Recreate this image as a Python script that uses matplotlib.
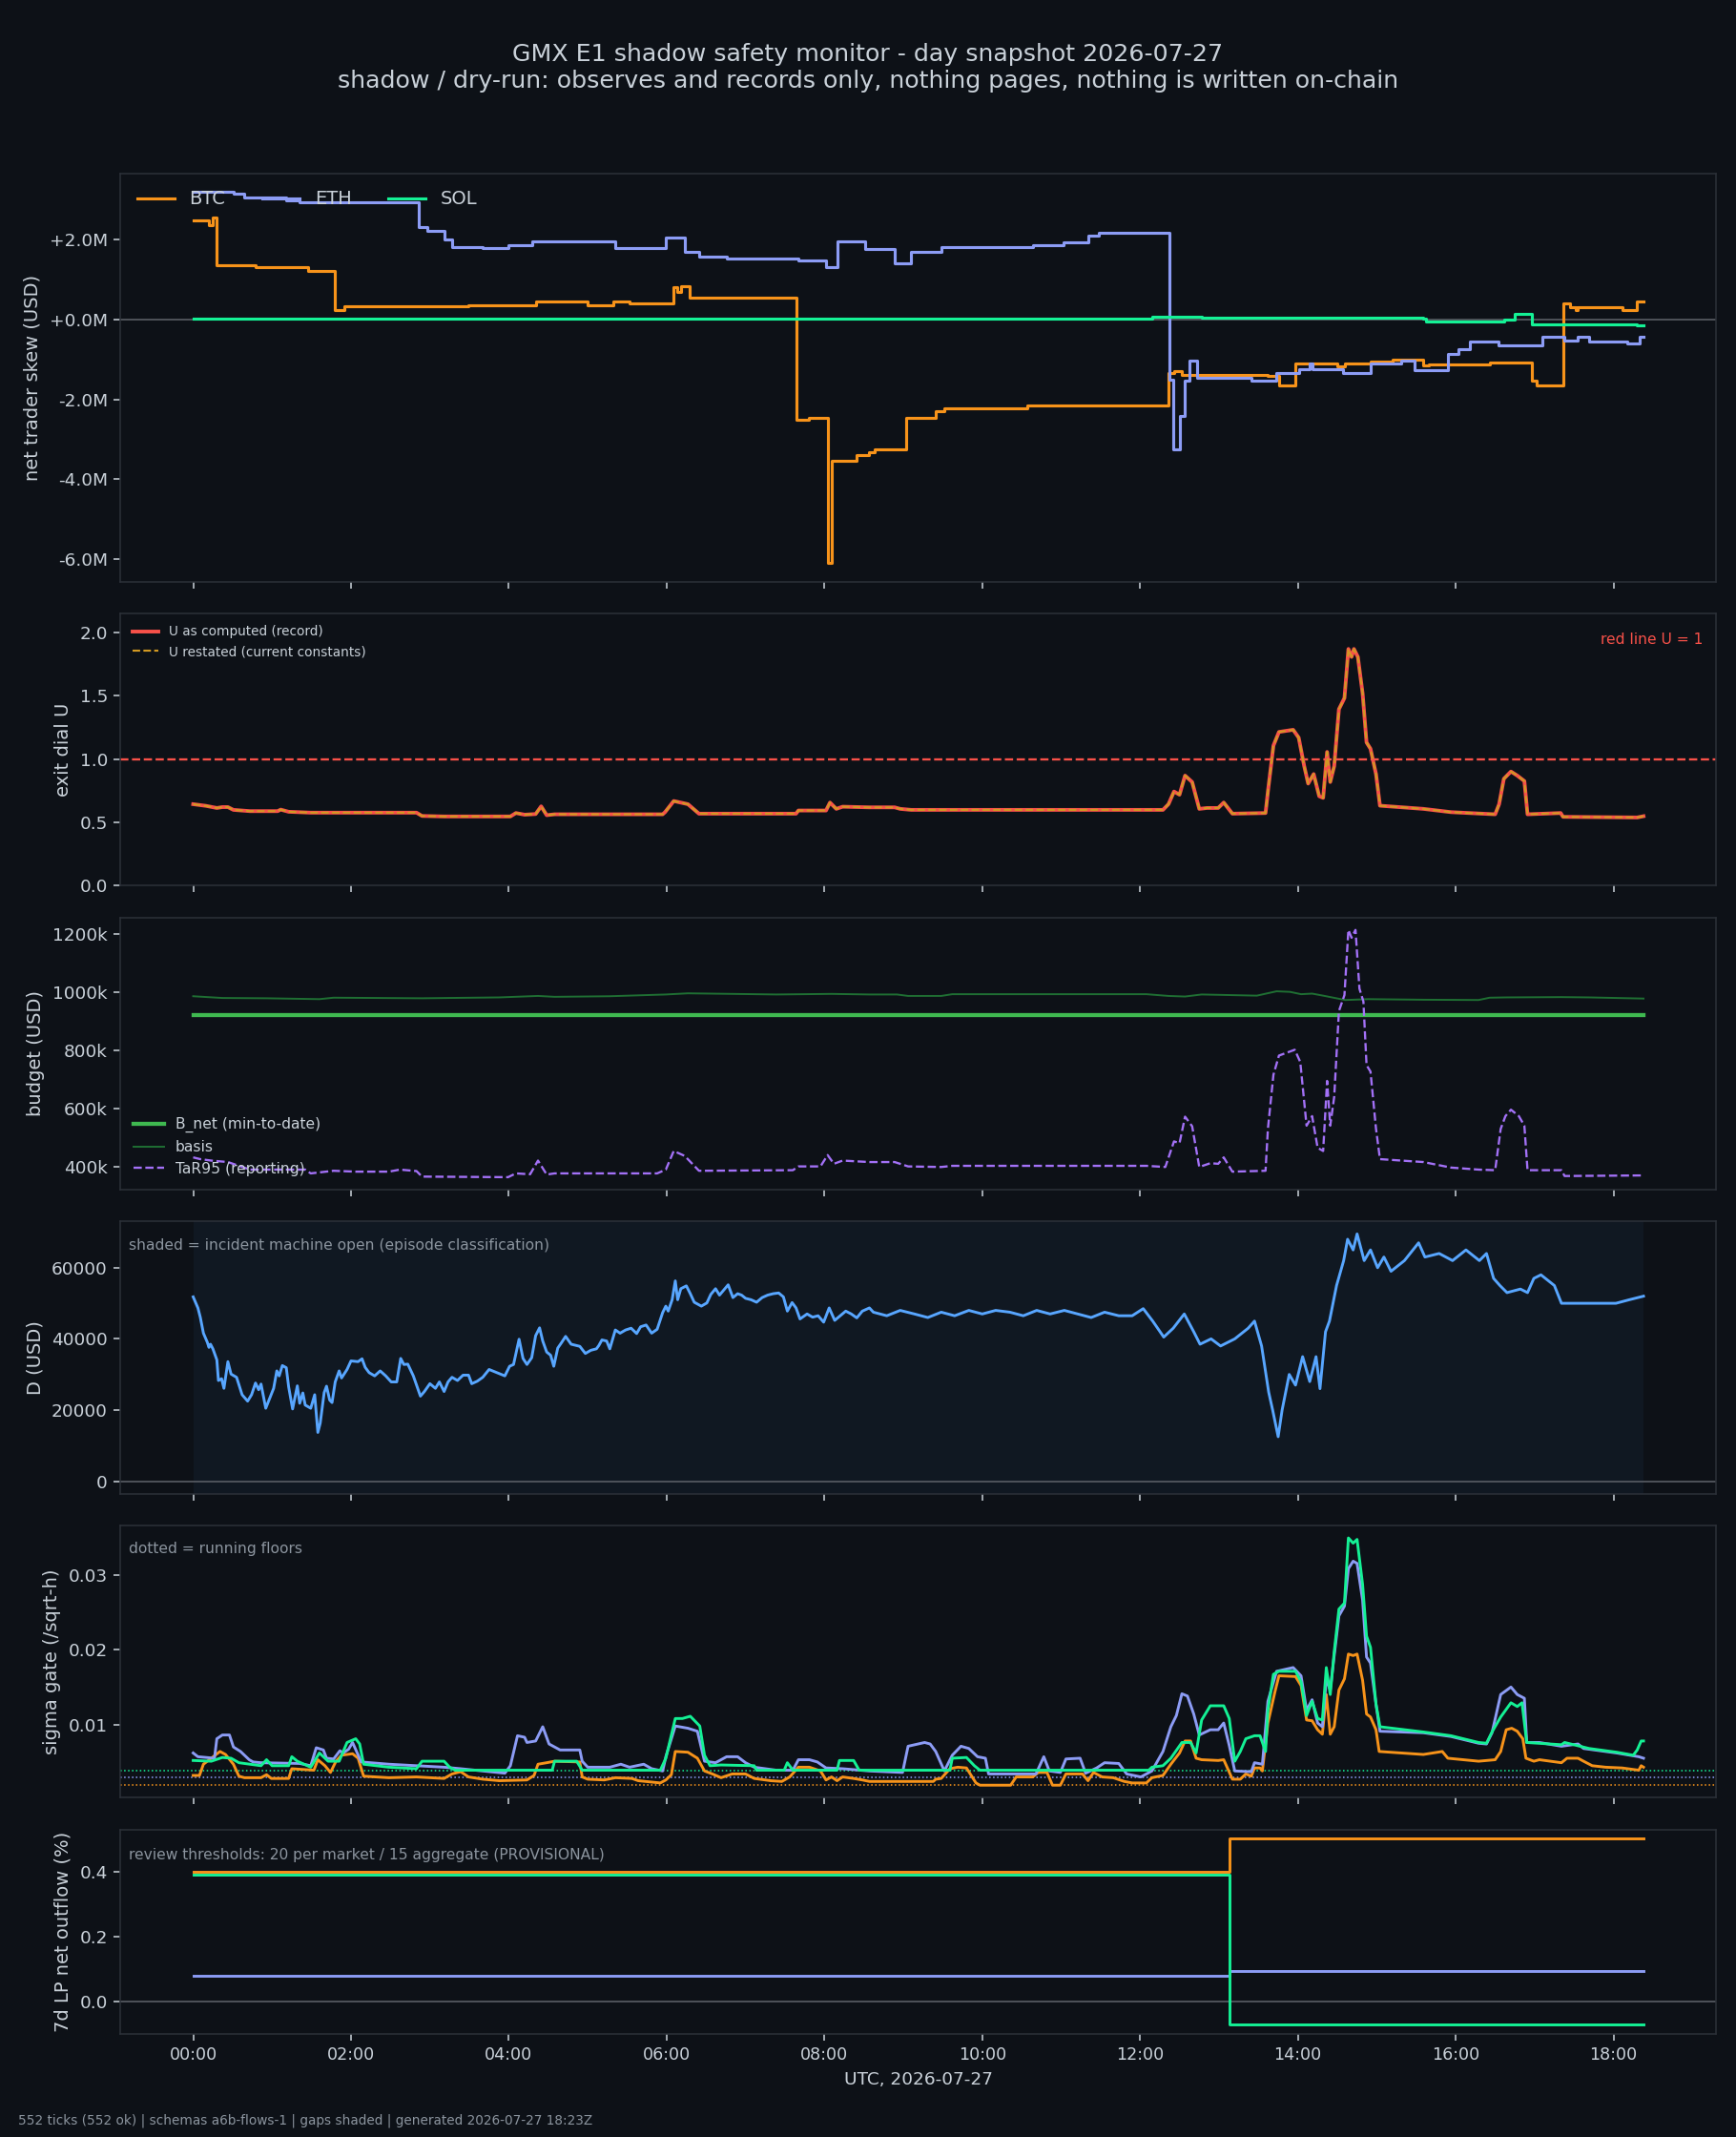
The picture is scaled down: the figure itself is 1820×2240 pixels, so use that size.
import matplotlib
matplotlib.use("Agg")
import matplotlib.pyplot as plt
import matplotlib.dates as mdates
import numpy as np
import pandas as pd

DAY = pd.Timestamp("2026-07-27")

# ---- colours
BG = "#0d1117"
FG = "#c9d1d9"
MUTED = "#8b949e"
SPINE = "#2b3038"
C_BTC = "#f7931a"
C_ETH = "#8c9cf5"
C_SOL = "#14f195"

# ---- panel 1: net trader skew (USD millions), step changes (hour, value)
btc_skew_h = [0.00, 0.20, 0.25, 0.30, 0.79, 1.04, 1.46, 1.80, 1.92, 3.49, 4.34, 5.00, 5.32, 5.53,
              6.09, 6.14, 6.18, 6.29, 7.65, 7.80, 8.02, 8.04, 8.09, 8.41, 8.57, 8.64, 9.03, 9.41,
              9.52, 10.57, 10.68, 12.36, 12.43, 12.53, 13.62, 13.76, 13.97, 14.50, 14.60, 14.92,
              15.20, 15.59, 15.66, 16.43, 16.96, 17.03, 17.36, 17.45, 17.52, 17.55, 18.11, 18.29, 18.38]
btc_skew = [2.50, 2.37, 2.55, 1.37, 1.31, 1.33, 1.23, 0.25, 0.33, 0.36, 0.45, 0.35, 0.45, 0.40,
            0.81, 0.69, 0.85, 0.56, -2.51, -2.47, -2.45, -6.10, -3.53, -3.40, -3.33, -3.25, -2.47, -2.30,
            -2.22, -2.16, -2.14, -1.34, -1.30, -1.38, -1.42, -1.66, -1.10, -1.18, -1.10, -1.04,
            -1.00, -1.14, -1.12, -1.08, -1.54, -1.66, 0.40, 0.31, 0.25, 0.32, 0.25, 0.45, 0.45]
eth_skew_h = [0.00, 0.51, 0.65, 1.18, 1.35, 2.83, 2.86, 2.97, 3.18, 3.28, 3.67, 3.99, 4.30, 5.35,
              5.99, 6.23, 6.41, 6.76, 7.67, 8.02, 8.16, 8.51, 8.89, 9.10, 9.48, 10.32, 10.64, 11.03,
              11.34, 11.48, 12.32, 12.37, 12.42, 12.50, 12.57, 12.63, 12.72, 13.41, 13.73, 14.01,
              14.15, 14.18, 14.57, 14.92, 15.31, 15.48, 15.90, 16.04, 16.18, 16.54, 17.10, 17.38,
              17.55, 17.69, 18.18, 18.33, 18.38]
eth_skew = [3.20, 3.16, 3.07, 2.99, 2.95, 2.95, 2.33, 2.22, 2.02, 1.83, 1.79, 1.87, 1.97, 1.79,
            2.05, 1.69, 1.59, 1.53, 1.49, 1.33, 1.97, 1.77, 1.41, 1.71, 1.81, 1.83, 1.87, 1.93,
            2.11, 2.19, 2.19, -1.50, -3.24, -2.41, -1.54, -1.02, -1.46, -1.52, -1.34, -1.25,
            -1.10, -1.24, -1.34, -1.10, -1.02, -1.26, -0.86, -0.74, -0.54, -0.64, -0.42, -0.53,
            -0.42, -0.54, -0.60, -0.42, -0.42]
sol_skew_h = [0.00, 12.15, 12.78, 15.59, 15.62, 16.61, 16.75, 16.96, 18.30, 18.38]
sol_skew = [0.02, 0.07, 0.05, 0.03, -0.04, 0.00, 0.15, -0.12, -0.14, -0.14]

# ---- panel 2: exit dial U
u_h = [0.00, 0.16, 0.30, 0.37, 0.44, 0.51, 0.72, 1.07, 1.11, 1.21, 1.49, 2.83, 2.90, 3.18, 4.02,
       4.09, 4.20, 4.34, 4.41, 4.48, 4.58, 5.95, 5.98, 6.09, 6.27, 6.41, 7.64, 7.67, 8.02, 8.07,
       8.15, 8.23, 8.57, 8.89, 8.96, 9.10, 12.29, 12.36, 12.43, 12.50, 12.57, 12.66, 12.75, 12.85,
       12.99, 13.06, 13.17, 13.59, 13.62, 13.69, 13.76, 13.94, 14.01, 14.08, 14.13, 14.20, 14.27,
       14.32, 14.37, 14.41, 14.46, 14.52, 14.59, 14.64, 14.68, 14.71, 14.76, 14.82, 14.87, 14.92,
       14.99, 15.04, 15.59, 15.94, 16.50, 16.55, 16.61, 16.70, 16.78, 16.87, 16.91, 17.33, 17.36,
       18.30, 18.38]
u_rec = [0.643, 0.630, 0.613, 0.620, 0.620, 0.598, 0.588, 0.588, 0.600, 0.583, 0.576, 0.576, 0.550,
         0.546, 0.546, 0.573, 0.560, 0.565, 0.626, 0.556, 0.563, 0.563, 0.580, 0.668, 0.643, 0.568,
         0.568, 0.593, 0.593, 0.656, 0.606, 0.623, 0.618, 0.618, 0.606, 0.598, 0.598, 0.643, 0.743,
         0.718, 0.869, 0.818, 0.606, 0.613, 0.613, 0.656, 0.568, 0.573, 0.743, 1.106, 1.214, 1.231,
         1.169, 0.944, 0.806, 0.881, 0.706, 0.693, 1.056, 0.818, 0.944, 1.394, 1.482, 1.870, 1.807,
         1.870, 1.807, 1.519, 1.131, 1.081, 0.881, 0.631, 0.606, 0.580, 0.563, 0.643, 0.844, 0.901,
         0.869, 0.826, 0.563, 0.573, 0.543, 0.538, 0.548]

# ---- panel 3: budget (USD thousands)
basis_h = [0.00, 0.37, 0.93, 1.60, 1.78, 2.90, 3.88, 4.37, 4.58, 5.28, 5.99, 6.27, 7.39, 8.09,
           8.57, 8.92, 9.06, 9.48, 9.62, 12.08, 12.36, 12.57, 12.78, 13.48, 13.73, 13.90, 14.04,
           14.18, 14.32, 14.60, 14.89, 15.59, 16.29, 16.43, 16.64, 17.34, 17.69, 18.38]
basis_k = [985, 979, 978, 975, 980, 978, 981, 986, 983, 985, 991, 995, 991, 993,
           991, 991, 986, 986, 992, 992, 986, 984, 991, 987, 1002, 1000, 992,
           994, 987, 972, 975, 973, 972, 980, 981, 982, 981, 977]
b_net_k = 920
tar_h = [0.00, 0.09, 0.23, 0.44, 0.72, 1.42, 1.49, 1.78, 2.06, 2.48, 2.62, 2.83, 2.90, 3.99, 4.09,
         4.27, 4.37, 4.48, 4.58, 5.88, 5.99, 6.09, 6.23, 6.41, 7.60, 7.67, 7.95, 8.04, 8.12, 8.23,
         8.57, 8.89, 9.06, 9.48, 9.62, 12.08, 12.32, 12.43, 12.50, 12.57, 12.66, 12.75, 12.89,
         12.99, 13.06, 13.17, 13.59, 13.62, 13.69, 13.76, 13.96, 14.03, 14.11, 14.18, 14.25,
         14.32, 14.37, 14.41, 14.46, 14.52, 14.59, 14.64, 14.68, 14.73, 14.78, 14.83, 14.87,
         14.92, 14.99, 15.04, 15.59, 15.94, 16.29, 16.50, 16.57, 16.63, 16.70, 16.80, 16.87,
         16.91, 17.34, 17.38, 18.38]
tar_k = [431, 425, 420, 415, 389, 389, 376, 385, 382, 382, 389, 384, 365, 363, 376,
         373, 420, 372, 376, 376, 389, 453, 436, 385, 387, 400, 400, 439, 409, 420,
         415, 415, 400, 398, 402, 402, 398, 486, 480, 571, 538, 398, 411,
         409, 431, 382, 385, 529, 715, 781, 801, 759, 540, 573, 464,
         453, 694, 540, 639, 934, 989, 1213, 1186, 1213, 1011, 967, 748,
         726, 529, 425, 415, 396, 389, 387, 529, 573, 595, 573, 540,
         387, 387, 367, 369]

# ---- panel 4: D (USD thousands)
d_h = [0.00, 0.06, 0.09, 0.13, 0.18, 0.20, 0.22, 0.25, 0.30, 0.32, 0.36, 0.39, 0.44, 0.48, 0.55,
       0.62, 0.69, 0.74, 0.79, 0.83, 0.86, 0.92, 0.97, 1.02, 1.06, 1.09, 1.13, 1.18, 1.21, 1.26,
       1.32, 1.35, 1.39, 1.42, 1.49, 1.54, 1.58, 1.61, 1.66, 1.69, 1.73, 1.76, 1.80, 1.85, 1.88,
       1.95, 2.00, 2.09, 2.14, 2.18, 2.23, 2.30, 2.37, 2.44, 2.51, 2.58, 2.63, 2.67, 2.72, 2.79,
       2.88, 2.93, 3.00, 3.07, 3.12, 3.18, 3.23, 3.28, 3.35, 3.42, 3.49, 3.53, 3.60, 3.67, 3.75,
       3.85, 3.95, 4.01, 4.06, 4.13, 4.18, 4.23, 4.29, 4.34, 4.39, 4.43, 4.48, 4.53, 4.57, 4.62,
       4.67, 4.72, 4.79, 4.90, 4.97, 5.04, 5.11, 5.14, 5.18, 5.24, 5.28, 5.35, 5.41, 5.48, 5.55,
       5.62, 5.67, 5.74, 5.81, 5.88, 5.95, 5.99, 6.02, 6.07, 6.11, 6.14, 6.18, 6.25, 6.30, 6.35,
       6.44, 6.51, 6.56, 6.62, 6.67, 6.72, 6.78, 6.84, 6.90, 6.95, 7.00, 7.07, 7.14, 7.21, 7.28,
       7.35, 7.42, 7.48, 7.53, 7.59, 7.64, 7.69, 7.78, 7.85, 7.92, 7.99, 8.06, 8.13, 8.20, 8.27,
       8.34, 8.41, 8.48, 8.57, 8.62, 8.79, 8.96, 9.14, 9.31, 9.48, 9.65, 9.83, 10.00, 10.17,
       10.35, 10.52, 10.69, 10.86, 11.04, 11.21, 11.38, 11.55, 11.73, 11.90, 12.04, 12.16, 12.30,
       12.42, 12.56, 12.68, 12.76, 12.90, 13.02, 13.20, 13.37, 13.45, 13.54, 13.63, 13.68, 13.75,
       13.80, 13.89, 13.97, 14.06, 14.15, 14.23, 14.28, 14.35, 14.40, 14.49, 14.58, 14.63, 14.70,
       14.75, 14.84, 14.92, 15.01, 15.09, 15.18, 15.35, 15.53, 15.61, 15.79, 15.96, 16.13, 16.30,
       16.39, 16.48, 16.56, 16.65, 16.82, 16.91, 16.99, 17.08, 17.25, 17.34, 17.51, 17.77, 18.03,
       18.20, 18.38]
d_k = [51.8, 48.7, 46.1, 41.6, 39.0, 37.6, 38.5, 37.2, 34.1, 28.3, 28.8, 26.1, 33.6, 30.1, 29.2,
       24.3, 22.5, 24.3, 27.6, 25.7, 27.3, 20.5, 23.3, 26.1, 31.0, 29.6, 32.5, 31.9, 26.5, 20.3,
       26.8, 21.9, 24.8, 21.4, 20.5, 24.3, 13.7, 16.3, 24.9, 26.7, 22.8, 22.1, 27.9, 31.0, 29.0,
       31.4, 33.8, 33.6, 34.4, 32.0, 30.5, 29.6, 31.0, 29.6, 27.9, 27.9, 34.5, 32.8, 32.9, 29.6,
       23.9, 25.2, 27.4, 26.1, 27.9, 25.2, 27.9, 29.2, 28.3, 29.8, 29.8, 27.4, 28.1, 29.2, 31.4,
       30.5, 29.6, 32.3, 32.8, 39.9, 34.5, 32.8, 34.7, 40.9, 43.1, 39.4, 36.3, 35.4, 32.3, 37.4,
       39.0, 40.7, 38.5, 37.9, 35.9, 36.8, 37.2, 38.1, 39.7, 39.4, 37.2, 42.5, 41.6, 42.5, 43.0,
       41.5, 43.4, 43.9, 41.6, 42.7, 47.4, 49.2, 47.8, 51.0, 56.3, 51.0, 54.1, 54.9, 52.7, 50.3,
       49.2, 50.1, 52.5, 54.1, 52.3, 53.6, 55.2, 51.6, 52.7, 52.3, 51.4, 51.0, 50.3, 51.6, 52.3,
       52.7, 52.9, 51.8, 47.8, 50.2, 48.7, 45.6, 47.0, 46.1, 46.5, 44.7, 48.7, 45.2, 46.5, 47.8,
       47.0, 45.9, 47.8, 48.7, 47.5, 46.5, 48.0, 47.0, 46.0, 47.5, 46.5, 48.0, 47.0, 48.0,
       47.5, 46.5, 48.0, 47.0, 48.0, 47.0, 46.0, 47.5, 46.5, 46.5, 48.5, 45.0, 40.5,
       43.0, 47.0, 42.0, 38.5, 40.0, 38.0, 40.0, 43.0, 45.0, 38.0, 25.0, 20.0, 12.5,
       20.0, 30.0, 27.0, 35.0, 28.0, 35.0, 26.0, 42.0, 45.0, 55.0, 62.0, 68.0, 65.0,
       69.5, 62.0, 65.0, 60.0, 63.0, 59.0, 62.0, 67.0, 63.0, 64.0, 62.0, 65.0, 62.0,
       64.0, 57.0, 55.0, 53.0, 54.0, 53.0, 57.0, 58.0, 55.0, 50.0, 50.0, 50.0, 50.0,
       51.0, 52.0]

# ---- panel 5: sigma gate (/sqrt-h)
btc_sig_h = [0.00, 0.08, 0.13, 0.23, 0.34, 0.41, 0.51, 0.58, 0.65, 0.86, 0.93, 0.99, 1.21, 1.25,
             1.53, 1.58, 1.67, 1.74, 1.81, 1.88, 2.02, 2.09, 2.16, 2.48, 2.83, 3.18, 3.28, 3.39,
             3.49, 3.67, 3.88, 4.23, 4.32, 4.37, 4.48, 4.58, 4.90, 4.93, 5.00, 5.21, 5.35, 5.56,
             5.64, 5.92, 5.99, 6.06, 6.11, 6.27, 6.39, 6.48, 6.58, 6.69, 6.83, 7.00, 7.11, 7.32,
             7.46, 7.56, 7.67, 7.81, 7.95, 8.02, 8.09, 8.16, 8.23, 8.37, 8.48, 8.57, 9.38, 9.41,
             9.48, 9.59, 9.69, 9.80, 9.92, 9.97, 10.36, 10.43, 10.64, 10.71, 10.82, 10.89, 10.99,
             11.06, 11.27, 11.34, 11.41, 11.52, 11.66, 11.80, 11.90, 12.08, 12.15, 12.29, 12.39,
             12.50, 12.57, 12.64, 12.71, 12.78, 12.99, 13.06, 13.17, 13.27, 13.34, 13.41, 13.45,
             13.52, 13.55, 13.62, 13.71, 13.76, 13.97, 14.04, 14.11, 14.18, 14.25, 14.31, 14.36,
             14.41, 14.46, 14.52, 14.59, 14.64, 14.70, 14.75, 14.82, 14.87, 14.92, 14.99, 15.03,
             15.59, 15.83, 15.90, 16.29, 16.50, 16.57, 16.64, 16.71, 16.78, 16.85, 16.89, 16.99,
             17.06, 17.34, 17.41, 17.55, 17.62, 17.73, 17.90, 18.11, 18.32, 18.35, 18.38]
btc_sig = [0.0032, 0.0032, 0.0047, 0.0055, 0.0064, 0.0060, 0.0047, 0.0031, 0.0029, 0.0029, 0.0033,
           0.0028, 0.0028, 0.0041, 0.0039, 0.0053, 0.0045, 0.0036, 0.0051, 0.0059, 0.0061, 0.0055,
           0.0031, 0.0029, 0.0030, 0.0028, 0.0034, 0.0037, 0.0030, 0.0027, 0.0025, 0.0026, 0.0032,
           0.0047, 0.0049, 0.0051, 0.0050, 0.0030, 0.0027, 0.0026, 0.0029, 0.0028, 0.0025, 0.0022,
           0.0026, 0.0033, 0.0064, 0.0063, 0.0055, 0.0038, 0.0034, 0.0029, 0.0034, 0.0034, 0.0028,
           0.0025, 0.0024, 0.0030, 0.0043, 0.0043, 0.0038, 0.0026, 0.0030, 0.0025, 0.0030, 0.0028,
           0.0026, 0.0024, 0.0024, 0.0027, 0.0028, 0.0041, 0.0043, 0.0042, 0.0022, 0.0019, 0.0019,
           0.0030, 0.0030, 0.0036, 0.0036, 0.0019, 0.0019, 0.0034, 0.0034, 0.0025, 0.0036, 0.0030,
           0.0029, 0.0024, 0.0022, 0.0022, 0.0029, 0.0032, 0.0047, 0.0062, 0.0078, 0.0078, 0.0055,
           0.0053, 0.0052, 0.0053, 0.0027, 0.0027, 0.0034, 0.0031, 0.0042, 0.0042, 0.0038, 0.0102,
           0.0144, 0.0165, 0.0164, 0.0152, 0.0106, 0.0105, 0.0093, 0.0087, 0.0140, 0.0087, 0.0097,
           0.0146, 0.0161, 0.0194, 0.0192, 0.0194, 0.0159, 0.0114, 0.0110, 0.0093, 0.0064, 0.0060,
           0.0064, 0.0055, 0.0051, 0.0053, 0.0064, 0.0093, 0.0095, 0.0091, 0.0081, 0.0055, 0.0051,
           0.0053, 0.0049, 0.0055, 0.0055, 0.0051, 0.0045, 0.0043, 0.0042, 0.0039, 0.0045, 0.0043]
eth_sig_h = [0.00, 0.06, 0.27, 0.30, 0.37, 0.46, 0.51, 0.60, 0.71, 0.76, 0.86, 1.35, 1.49, 1.56,
             1.65, 1.69, 1.78, 1.86, 1.90, 1.97, 2.02, 2.13, 2.48, 2.83, 3.18, 3.39, 3.67, 3.95,
             4.02, 4.11, 4.20, 4.23, 4.34, 4.43, 4.51, 4.58, 4.65, 4.90, 4.93, 5.00, 5.28, 5.42,
             5.53, 5.71, 5.81, 5.95, 5.99, 6.11, 6.27, 6.39, 6.48, 6.62, 6.76, 6.90, 7.00, 7.11,
             7.39, 7.60, 7.67, 7.81, 7.91, 8.02, 8.23, 8.57, 8.99, 9.06, 9.27, 9.34, 9.41, 9.52,
             9.62, 9.73, 9.83, 9.94, 10.04, 10.08, 10.68, 10.78, 10.85, 10.99, 11.06, 11.24, 11.31,
             11.45, 11.55, 11.73, 11.83, 12.01, 12.15, 12.29, 12.39, 12.46, 12.53, 12.60, 12.68,
             12.75, 12.89, 12.99, 13.06, 13.13, 13.20, 13.41, 13.45, 13.55, 13.62, 13.73, 13.94,
             14.04, 14.11, 14.18, 14.25, 14.31, 14.36, 14.41, 14.46, 14.52, 14.59, 14.64, 14.70,
             14.75, 14.82, 14.87, 14.92, 14.99, 15.04, 15.59, 15.94, 16.29, 16.39, 16.46, 16.57,
             16.70, 16.78, 16.87, 16.90, 17.06, 17.34, 17.55, 17.62, 18.04, 18.32, 18.38]
eth_sig = [0.0062, 0.0057, 0.0055, 0.0081, 0.0086, 0.0086, 0.0070, 0.0064, 0.0053, 0.0050, 0.0049,
           0.0048, 0.0045, 0.0069, 0.0066, 0.0055, 0.0054, 0.0065, 0.0062, 0.0067, 0.0076, 0.0050,
           0.0047, 0.0045, 0.0043, 0.0041, 0.0038, 0.0035, 0.0045, 0.0085, 0.0083, 0.0076, 0.0078,
           0.0097, 0.0074, 0.0070, 0.0066, 0.0066, 0.0051, 0.0043, 0.0043, 0.0047, 0.0043, 0.0047,
           0.0041, 0.0038, 0.0057, 0.0098, 0.0095, 0.0091, 0.0051, 0.0049, 0.0057, 0.0057, 0.0049,
           0.0043, 0.0039, 0.0039, 0.0053, 0.0053, 0.0050, 0.0042, 0.0041, 0.0038, 0.0036, 0.0071,
           0.0076, 0.0074, 0.0064, 0.0038, 0.0059, 0.0071, 0.0068, 0.0057, 0.0055, 0.0034, 0.0034,
           0.0057, 0.0038, 0.0036, 0.0054, 0.0055, 0.0035, 0.0042, 0.0049, 0.0048, 0.0034, 0.0030,
           0.0038, 0.0064, 0.0097, 0.0112, 0.0141, 0.0138, 0.0114, 0.0086, 0.0093, 0.0093, 0.0102,
           0.0072, 0.0038, 0.0037, 0.0049, 0.0047, 0.0131, 0.0171, 0.0176, 0.0165, 0.0119, 0.0133,
           0.0102, 0.0097, 0.0161, 0.0146, 0.0192, 0.0245, 0.0258, 0.0308, 0.0318, 0.0315, 0.0266,
           0.0190, 0.0182, 0.0127, 0.0091, 0.0089, 0.0084, 0.0075, 0.0074, 0.0089, 0.0140, 0.0150,
           0.0140, 0.0135, 0.0076, 0.0076, 0.0071, 0.0074, 0.0068, 0.0062, 0.0057, 0.0055]
sol_sig_h = [0.00, 0.23, 0.37, 0.48, 0.58, 0.86, 0.93, 1.00, 1.21, 1.25, 1.32, 1.49, 1.60, 1.71,
             1.85, 1.95, 2.06, 2.11, 2.16, 2.48, 2.83, 2.90, 3.18, 3.25, 3.32, 4.55, 4.58, 4.86,
             4.93, 5.92, 5.99, 6.11, 6.20, 6.30, 6.42, 6.48, 6.55, 6.69, 7.11, 7.14, 7.49, 7.53,
             7.60, 8.16, 8.19, 8.37, 8.44, 9.59, 9.62, 9.80, 9.90, 9.97, 12.11, 12.15, 12.29, 12.39,
             12.53, 12.64, 12.71, 12.78, 12.89, 13.06, 13.13, 13.20, 13.27, 13.34, 13.45, 13.52,
             13.59, 13.62, 13.69, 13.76, 13.97, 14.04, 14.11, 14.18, 14.25, 14.31, 14.36, 14.41,
             14.46, 14.52, 14.59, 14.64, 14.70, 14.75, 14.82, 14.87, 14.92, 14.99, 15.04, 15.59,
             15.94, 16.29, 16.39, 16.46, 16.57, 16.70, 16.78, 16.84, 16.90, 17.34, 17.38, 17.69,
             18.04, 18.25, 18.30, 18.35, 18.38]
sol_sig = [0.0052, 0.0051, 0.0056, 0.0055, 0.0049, 0.0045, 0.0053, 0.0045, 0.0045, 0.0057, 0.0051,
           0.0043, 0.0062, 0.0051, 0.0051, 0.0076, 0.0081, 0.0074, 0.0047, 0.0043, 0.0041, 0.0051,
           0.0051, 0.0043, 0.0039, 0.0039, 0.0051, 0.0051, 0.0039, 0.0039, 0.0055, 0.0108, 0.0108,
           0.0111, 0.0098, 0.0059, 0.0045, 0.0046, 0.0045, 0.0039, 0.0039, 0.0049, 0.0039, 0.0039,
           0.0052, 0.0052, 0.0039, 0.0039, 0.0055, 0.0056, 0.0045, 0.0039, 0.0039, 0.0043, 0.0045,
           0.0055, 0.0076, 0.0076, 0.0062, 0.0106, 0.0125, 0.0125, 0.0108, 0.0051, 0.0064, 0.0081,
           0.0085, 0.0085, 0.0064, 0.0119, 0.0167, 0.0171, 0.0171, 0.0157, 0.0112, 0.0131, 0.0108,
           0.0106, 0.0176, 0.0140, 0.0197, 0.0254, 0.0262, 0.0349, 0.0342, 0.0347, 0.0287, 0.0218,
           0.0203, 0.0127, 0.0097, 0.0090, 0.0085, 0.0076, 0.0075, 0.0090, 0.0110, 0.0129, 0.0124,
           0.0129, 0.0076, 0.0073, 0.0076, 0.0068, 0.0063, 0.0059, 0.0066, 0.0078, 0.0078]
floors = {"BTC": 0.0019, "ETH": 0.0029, "SOL": 0.0039}

# ---- panel 6: 7d LP net outflow (%), step at 13:08
lp_h = [0.00, 13.13, 18.38]
lp_btc = [0.40, 0.50, 0.50]
lp_eth = [0.08, 0.095, 0.095]
lp_sol = [0.39, -0.07, -0.07]


def to_time(hours):
    return DAY + pd.to_timedelta(np.asarray(hours, dtype=float), unit="h")


plt.rcParams.update({
    "figure.facecolor": BG,
    "axes.facecolor": BG,
    "axes.edgecolor": SPINE,
    "axes.labelcolor": FG,
    "text.color": FG,
    "xtick.color": FG,
    "ytick.color": FG,
    "font.size": 9,
    "axes.labelsize": 10,
})

fig, axs = plt.subplots(6, 1, figsize=(13, 16), dpi=140, sharex=True,
                        gridspec_kw=dict(height_ratios=[6, 4, 4, 4, 4, 3], hspace=0.113))
fig.subplots_adjust(left=0.0695, right=0.9885, top=0.9188, bottom=0.0484)
fig.suptitle("GMX E1 shadow safety monitor - day snapshot 2026-07-27\n"
             "shadow / dry-run: observes and records only, nothing pages, nothing is written on-chain",
             fontsize=13, color=FG, y=0.98)

# panel 1 - skew
ax = axs[0]
ax.axhline(0, color="#555a61", lw=0.9)
ax.plot(to_time(btc_skew_h), btc_skew, color=C_BTC, lw=1.6, drawstyle="steps-post", label="BTC")
ax.plot(to_time(eth_skew_h), eth_skew, color=C_ETH, lw=1.6, drawstyle="steps-post", label="ETH")
ax.plot(to_time(sol_skew_h), sol_skew, color=C_SOL, lw=1.6, drawstyle="steps-post", label="SOL")
ax.yaxis.set_major_formatter(plt.FuncFormatter(lambda v, p: f"{v:+.1f}M"))
ax.set_yticks([-6, -4, -2, 0, 2])
ax.set_ylabel("net trader skew (USD)")
ax.legend(loc="upper left", ncol=3, frameon=False, fontsize=10, labelcolor=FG)

# panel 2 - exit dial
ax = axs[1]
ax.axhline(1.0, color="#f85149", lw=1.2, ls="--")
ax.plot(to_time(u_h), u_rec, color="#f85149", lw=2.0, label="U as computed (record)")
ax.plot(to_time(u_h), u_rec, color="#d29922", lw=1.1, ls="--", label="U restated (current constants)")
ax.set_ylim(0, 2.15)
ax.set_yticks([0, 0.5, 1.0, 1.5, 2.0])
ax.set_ylabel("exit dial U")
ax.text(0.992, 0.93, "red line U = 1", transform=ax.transAxes, ha="right", va="top",
        color="#f85149", fontsize=8)
ax.legend(loc="upper left", frameon=False, fontsize=7, labelcolor=FG)

# panel 3 - budget
ax = axs[2]
ax.plot(to_time([0.0, 18.38]), [b_net_k, b_net_k], color="#3fb950", lw=2.2, label="B_net (min-to-date)")
ax.plot(to_time(basis_h), basis_k, color="#1f6f33", lw=1.0, label="basis")
ax.plot(to_time(tar_h), tar_k, color="#a371f7", lw=1.2, ls="--", label="TaR95 (reporting)")
ax.yaxis.set_major_formatter(plt.FuncFormatter(lambda v, p: f"{v:.0f}k"))
ax.set_yticks([400, 600, 800, 1000, 1200])
ax.set_ylabel("budget (USD)")
ax.legend(loc="lower left", frameon=False, fontsize=8, labelcolor=FG)

# panel 4 - D
ax = axs[3]
ax.axvspan(to_time([0.0])[0], to_time([18.38])[0], color="#58a6ff", alpha=0.05, lw=0)
ax.axhline(0, color="#555a61", lw=0.9)
ax.plot(to_time(d_h), np.array(d_k) * 1000, color="#58a6ff", lw=1.5)
ax.set_ylabel("D (USD)")
ax.set_yticks([0, 20000, 40000, 60000])
ax.text(0.005, 0.94, "shaded = incident machine open (episode classification)", transform=ax.transAxes,
        ha="left", va="top", color=MUTED, fontsize=8)

# panel 5 - sigma gate
ax = axs[4]
for name, col in [("SOL", C_SOL), ("ETH", C_ETH), ("BTC", C_BTC)]:
    ax.axhline(floors[name], color=col, lw=0.8, ls=":")
ax.plot(to_time(btc_sig_h), btc_sig, color=C_BTC, lw=1.5)
ax.plot(to_time(eth_sig_h), eth_sig, color=C_ETH, lw=1.5)
ax.plot(to_time(sol_sig_h), sol_sig, color=C_SOL, lw=1.5)
ax.set_yticks([0.01, 0.02, 0.03])
ax.set_ylabel("sigma gate (/sqrt-h)")
ax.text(0.005, 0.94, "dotted = running floors", transform=ax.transAxes,
        ha="left", va="top", color=MUTED, fontsize=8)

# panel 6 - LP outflow
ax = axs[5]
ax.axhline(0, color="#555a61", lw=0.9)
ax.plot(to_time(lp_h), lp_btc, color=C_BTC, lw=1.5, drawstyle="steps-post")
ax.plot(to_time(lp_h), lp_eth, color=C_ETH, lw=1.5, drawstyle="steps-post")
ax.plot(to_time(lp_h), lp_sol, color=C_SOL, lw=1.5, drawstyle="steps-post")
ax.set_yticks([0.0, 0.2, 0.4])
ax.set_ylabel("7d LP net outflow (%)")
ax.text(0.005, 0.91, "review thresholds: 20 per market / 15 aggregate (PROVISIONAL)",
        transform=ax.transAxes, ha="left", va="top", color=MUTED, fontsize=8)
ax.set_xlabel("UTC, 2026-07-27", fontsize=9.5)
ax.xaxis.set_major_locator(mdates.HourLocator(byhour=range(0, 24, 2)))
ax.xaxis.set_major_formatter(mdates.DateFormatter("%H:%M"))

for a in axs:
    for s in a.spines.values():
        s.set_color(SPINE)
    a.tick_params(axis="x", labelsize=9, length=3.5, color=FG)
    a.tick_params(axis="y", labelsize=9.5, length=3.5, color=FG)
    a.grid(False)

fig.text(0.0102, 0.0076, "552 ticks (552 ok) | schemas a6b-flows-1 | gaps shaded | generated 2026-07-27 18:23Z",
         ha="left", va="center", color=MUTED, fontsize=7)

fig.savefig("out.png", dpi=140, facecolor=BG)
